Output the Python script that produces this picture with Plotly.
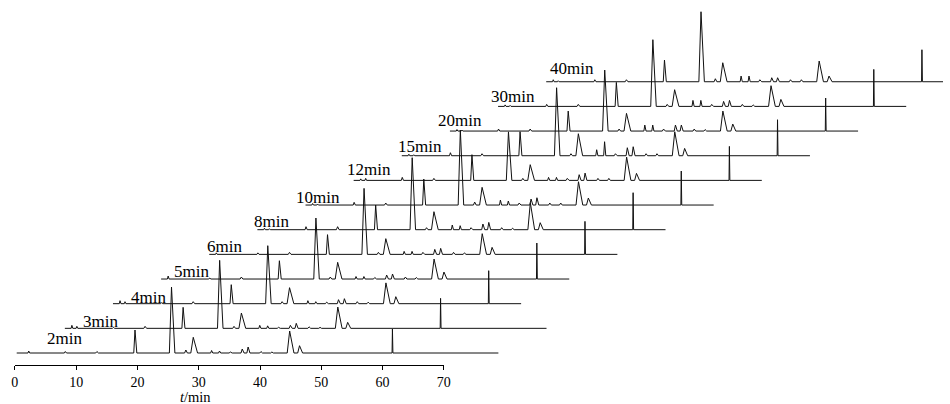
import plotly.graph_objects as go

# ---------------- data ----------------
samples = ["2min", "3min", "4min", "5min", "6min", "8min",
           "10min", "12min", "15min", "20min", "30min", "40min"]
run_start = 0.3
run_end = [78.9, 78.9, 66.9, 66.9, 66.9, 66.9, 66.9, 66.9, 66.9, 66.9, 66.9, 66.9]

# retention times (min) of the peaks
peak_times = [1.45, 2.26, 8.23, 13.39, 19.6, 25.56, 27.9, 29.11, 32.1, 33.39,
              35.16, 37.1, 38.06, 40.16, 41.94, 44.84, 46.45, 61.61]

# peak heights, one value per sample (2min ... 40min)
h_p1 = [0, 3, 3, 3, 1.5, 1.5, 1.5, 1.5, 1.5, 1.5, 1.5, 2]
h_p2 = [2, 2, 2, 0, 0, 1, 1, 2, 1, 1, 1, 1]
h_p3 = [1.5, 1, 1, 1, 1.5, 3, 2.7, 3, 3, 2, 2, 2]
h_p4 = [1.5, 2, 2, 2, 2, 3, 2, 2, 2, 2, 2, 2]
h_A = [23, 21, 19, 18.3, 19.7, 24.7, 26, 25.7, 24, 20, 24, 21.7]
h_B = [66, 68, 58, 61, 66, 72, 75, 48.5, 68, 61, 66.7, 70]
h_s1 = [3, 2, 2, 2, 2, 2, 3, 2, 2, 2, 2, 3]
h_C = [15.7, 15.3, 16, 16.7, 15.7, 18, 17.7, 15.7, 22, 17.7, 16.7, 19]
h_s2 = [2.5, 3, 3, 2.5, 3, 4.7, 5, 3, 6, 6, 6, 5.7]
h_s3 = [2, 2.5, 2, 2.5, 3, 4, 4, 3, 14, 6, 6, 5.7]
h_s4 = [1, 1, 1.5, 1.5, 2, 2, 2, 2, 2, 2, 2, 2]
h_s5 = [4, 3, 4, 4, 5, 5.7, 6, 5.7, 8, 6, 5, 4]
h_s6 = [6, 5, 5, 5, 6, 7.3, 7.3, 7.3, 9, 6, 6, 4]
h_s7 = [1.5, 1.5, 2, 2, 2, 2, 2, 2, 2, 2, 2, 2]
h_s8 = [1, 1, 1.5, 1.5, 1.5, 1.5, 2, 2, 2, 1.5, 1.5, 2]
h_D = [22, 21.3, 20.8, 20, 20.7, 27, 23.3, 23.3, 24, 20, 20.7, 20.7]
h_E = [7.3, 6, 7, 7, 7, 7, 7, 7, 7.3, 7, 7, 5.7]
h_F = [24, 30, 33, 36, 33, 37, 34, 34, 36, 33, 37, 32]

peak_heights = [h_p1, h_p2, h_p3, h_p4, h_A, h_B, h_s1, h_C, h_s2, h_s3,
                h_s4, h_s5, h_s6, h_s7, h_s8, h_D, h_E, h_F]

x_ticks = [0, 10, 20, 30, 40, 50, 60, 70]
x_title = "<i>t</i>/min"

# ---------------- layout / style constants ----------------
W, H = 950, 404
PX_PER_MIN = 6.2
AXIS_X0_PX = 11          # pixel of t = 0
PLOT_BOTTOM_PX = 365     # pixel row of the time axis line
X_STEP = 48.7 / PX_PER_MIN   # horizontal stagger between chromatograms (min)
Y_STEP = 24.66               # vertical stagger (intensity units)
Y_BOTTOM = -12               # axis line lies 12 units below first baseline

# half-widths (left, right) of each peak, minutes
PEAK_SHAPE = [(0.12, 0.15), (0.12, 0.15), (0.15, 0.2), (0.2, 0.25),
              (0.2, 0.3), (0.35, 0.55), (0.2, 0.25), (0.4, 0.7),
              (0.15, 0.2), (0.15, 0.2), (0.2, 0.3), (0.2, 0.3), (0.2, 0.3),
              (0.2, 0.25), (0.2, 0.25), (0.4, 0.7), (0.3, 0.5), (0.06, 0.08)]

LABEL_DX_PX = [30, 17.3, 16.9, 11.6, -2.8, -4.2, -10.5, -7.6, -5.3, -13, -7.7, 3]
LABEL_DY = [8, 0, 0, 1, 1.4, 1.7, 0.7, 4.7, 2.4, 4.4, 3.1, 6.7]

SERIF = "Liberation Serif, Times New Roman, serif"
LINE_COLOR = "#111111"

x_min = -AXIS_X0_PX / PX_PER_MIN
x_max = (W - AXIS_X0_PX) / PX_PER_MIN
y_top = Y_BOTTOM + PLOT_BOTTOM_PX

fig = go.Figure()

for k, name in enumerate(samples):
    pts = [(run_start, 0.0)]
    order = sorted(range(len(peak_times)), key=lambda i: peak_times[i])
    for i in order:
        h = peak_heights[i][k]
        t = peak_times[i]
        if h <= 0 or t > run_end[k]:
            continue
        wl, wr = PEAK_SHAPE[i]
        pts += [(t - wl, 0.0), (t, h), (t + wr, 0.0)]
    pts.append((run_end[k], 0.0))
    xs = [p[0] + k * X_STEP for p in pts]
    ys = [p[1] + k * Y_STEP for p in pts]
    fig.add_trace(go.Scatter(x=xs, y=ys, mode="lines", xaxis="x2", yaxis="y",
                             line=dict(color=LINE_COLOR, width=1),
                             showlegend=False, hoverinfo="skip"))

# invisible trace to carry the visible time axis
fig.add_trace(go.Scatter(x=[x_ticks[0], x_ticks[-1]], y=[Y_BOTTOM, Y_BOTTOM],
                         mode="lines", line=dict(width=0), xaxis="x", yaxis="y",
                         showlegend=False, hoverinfo="skip"))

annotations = []
for k, name in enumerate(samples):
    annotations.append(dict(
        text=name, xref="x2", yref="y",
        x=run_start + k * X_STEP + LABEL_DX_PX[k] / PX_PER_MIN,
        y=k * Y_STEP + LABEL_DY[k],
        xanchor="left", yanchor="bottom", yshift=-4, borderpad=0,
        showarrow=False, font=dict(family=SERIF, size=17, color="black")))

annotations.append(dict(
    text=x_title, xref="x", yref="paper", x=29.5, y=0, yshift=-32,
    xanchor="center", yanchor="middle", showarrow=False, borderpad=0,
    font=dict(family=SERIF, size=14.5, color="black")))

fig.update_layout(
    width=W, height=H,
    margin=dict(l=0, r=0, t=0, b=H - PLOT_BOTTOM_PX, pad=0),
    paper_bgcolor="white", plot_bgcolor="rgba(0,0,0,0)",
    xaxis=dict(domain=[AXIS_X0_PX / W, (AXIS_X0_PX + 70 * PX_PER_MIN) / W],
               range=[x_ticks[0], x_ticks[-1]], anchor="y",
               tickvals=x_ticks, ticktext=[str(v) for v in x_ticks],
               ticks="outside", ticklen=4, tickwidth=1, tickcolor="black",
               showline=True, linecolor="black", linewidth=1,
               showgrid=False, zeroline=False,
               tickfont=dict(family=SERIF, size=14, color="black")),
    xaxis2=dict(domain=[0, 1], range=[x_min, x_max], anchor="y",
                visible=False, showgrid=False, zeroline=False),
    yaxis=dict(range=[Y_BOTTOM, y_top], visible=False, showgrid=False,
               zeroline=False),
    annotations=annotations,
)

fig.write_html(
    "out.html",
    config={"displayModeBar": False},
    post_script="document.body.style.margin='0';"
                "document.body.style.overflow='hidden';",
)
